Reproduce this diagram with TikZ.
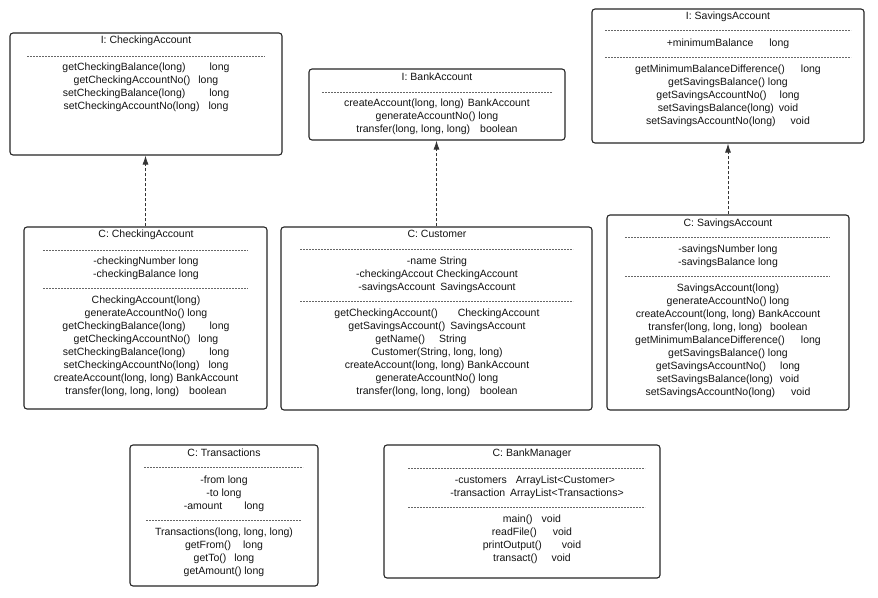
\documentclass[tikz,border=0pt]{standalone}
\usepackage{fontspec}
\setmainfont{Liberation Sans}
\usetikzlibrary{arrows.meta}
\begin{document}
\begin{tikzpicture}[x=1pt,y=-1pt,
  umlbox/.style={draw=black!85,line width=1.1pt,rounded corners=3pt,inner sep=0pt},
  sep/.style={draw=black!60,line width=0.5pt,dash pattern=on 2pt off 1pt},
  txt/.style={inner sep=0pt,text=black!92,font=\fontsize{10.5}{12}\selectfont,text height=7.6pt,text depth=2.2pt,anchor=center},
  dep/.style={draw=black!80,line width=0.9pt,dash pattern=on 3pt off 2pt,-{Latex[length=9pt,width=6pt]}}]
\useasboundingbox (0,0) rectangle (878,597);
\fill[white] (0,0) rectangle (878,597);

% ---------- boxes ----------
\node[umlbox,minimum width=272pt,minimum height=122pt] (A) at (146,94) {};
\node[umlbox,minimum width=256pt,minimum height=71pt] (B) at (437,104.5) {};
\node[umlbox,minimum width=272pt,minimum height=134pt] (C) at (728,76) {};
\node[umlbox,minimum width=243pt,minimum height=182pt] (D) at (145.5,318) {};
\node[umlbox,minimum width=311pt,minimum height=183pt] (E) at (436.5,318.5) {};
\node[umlbox,minimum width=242pt,minimum height=195pt] (F) at (728,312.5) {};
\node[umlbox,minimum width=188pt,minimum height=141pt] (G) at (224,515.5) {};
\node[umlbox,minimum width=276pt,minimum height=133pt] (H) at (522,511.5) {};

% ---------- separators ----------
\draw[sep] (27,56) -- (265,56);
\draw[sep] (322,92) -- (552,92);
\draw[sep] (605,30) -- (851,30);
\draw[sep] (605,57) -- (851,57);
\draw[sep] (43,250) -- (248,250);
\draw[sep] (43,288) -- (248,288);
\draw[sep] (300,249) -- (573,249);
\draw[sep] (300,301) -- (573,301);
\draw[sep] (625,237) -- (830,237);
\draw[sep] (625,276) -- (830,276);
\draw[sep] (144,467) -- (303,467);
\draw[sep] (146,520) -- (301,520);
\draw[sep] (408,468) -- (645,468);
\draw[sep] (408,507) -- (645,507);

% ---------- I: CheckingAccount ----------
\node[txt] (a0) at (146,41) {I: CheckingAccount};
\node[txt] (a1) at (146,68) {getCheckingBalance(long)\hspace{24pt}long};
\node[txt] (a2) at (146,81) {getCheckingAccountNo()\hspace{8pt}long};
\node[txt] (a3) at (146,94) {setCheckingBalance(long)\hspace{24pt}long};
\node[txt] (a4) at (146,107) {setCheckingAccountNo(long)\hspace{9pt}long};

% ---------- I: BankAccount ----------
\node[txt] (b0) at (437,78) {I: BankAccount};
\node[txt] (b1) at (437,104) {createAccount(long, long)\hspace{4pt}BankAccount};
\node[txt] (b2) at (437,117) {generateAccountNo() long};
\node[txt] (b3) at (437,130) {transfer(long, long, long)\hspace{10pt}boolean};

% ---------- I: SavingsAccount ----------
\node[txt] (c0) at (728,17) {I: SavingsAccount};
\node[txt] (c1) at (728,44) {+minimumBalance\hspace{16pt}long};
\node[txt] (c2) at (728,70) {getMinimumBalanceDifference()\hspace{16pt}long};
\node[txt] (c3) at (728,83) {getSavingsBalance() long};
\node[txt] (c4) at (728,96) {getSavingsAccountNo()\hspace{13pt}long};
\node[txt] (c5) at (728,109) {setSavingsBalance(long)\hspace{5pt}void};
\node[txt] (c6) at (728,122) {setSavingsAccountNo(long)\hspace{15pt}void};

% ---------- C: CheckingAccount ----------
\node[txt] (d0) at (146,235) {C: CheckingAccount};
\node[txt] (d1) at (146,262) {-checkingNumber long};
\node[txt] (d2) at (146,275) {-checkingBalance long};
\node[txt] (d3) at (146,301) {CheckingAccount(long)};
\node[txt] (d4) at (146,314) {generateAccountNo() long};
\node[txt] (d5) at (146,327) {getCheckingBalance(long)\hspace{24pt}long};
\node[txt] (d6) at (146,340) {getCheckingAccountNo()\hspace{8pt}long};
\node[txt] (d7) at (146,353) {setCheckingBalance(long)\hspace{24pt}long};
\node[txt] (d8) at (146,366) {setCheckingAccountNo(long)\hspace{9pt}long};
\node[txt] (d9) at (146,379) {createAccount(long, long) BankAccount};
\node[txt] (d10) at (146,392) {transfer(long, long, long)\hspace{10pt}boolean};

% ---------- C: Customer ----------
\node[txt] (e0) at (437,235) {C: Customer};
\node[txt] (e1) at (437,262) {-name String};
\node[txt] (e2) at (437,275) {-checkingAccout CheckingAccount};
\node[txt] (e3) at (437,288) {-savingsAccount\hspace{5pt}SavingsAccount};
\node[txt] (e4) at (437,314) {getCheckingAccount()\hspace{20pt}CheckingAccount};
\node[txt] (e5) at (437,327) {getSavingsAccount()\hspace{5pt}SavingsAccount};
\node[txt] (e6) at (421,340) {getName()\hspace{14pt}String};
\node[txt] (e7) at (437,353) {Customer(String, long, long)};
\node[txt] (e8) at (437,366) {createAccount(long, long) BankAccount};
\node[txt] (e9) at (437,379) {generateAccountNo() long};
\node[txt] (e10) at (437,392) {transfer(long, long, long)\hspace{10pt}boolean};

% ---------- C: SavingsAccount ----------
\node[txt] (f0) at (728,224) {C: SavingsAccount};
\node[txt] (f1) at (728,250) {-savingsNumber long};
\node[txt] (f2) at (728,263) {-savingsBalance long};
\node[txt] (f3) at (728,289) {SavingsAccount(long)};
\node[txt] (f4) at (728,302) {generateAccountNo() long};
\node[txt] (f5) at (728,315) {createAccount(long, long) BankAccount};
\node[txt] (f6) at (728,328) {transfer(long, long, long)\hspace{8pt}boolean};
\node[txt] (f7) at (728,341) {getMinimumBalanceDifference()\hspace{16pt}long};
\node[txt] (f8) at (728,354) {getSavingsBalance() long};
\node[txt] (f9) at (728,367) {getSavingsAccountNo()\hspace{14pt}long};
\node[txt] (f10) at (728,380) {setSavingsBalance(long)\hspace{7pt}void};
\node[txt] (f11) at (728,393) {setSavingsAccountNo(long)\hspace{16pt}void};

% ---------- C: Transactions ----------
\node[txt] (g0) at (224,454) {C: Transactions};
\node[txt] (g1) at (224,481) {-from long};
\node[txt] (g2) at (224,494) {-to long};
\node[txt] (g3) at (224,507) {-amount\hspace{22pt}long};
\node[txt] (g4) at (224,533) {Transactions(long, long, long)};
\node[txt] (g5) at (224,546) {getFrom()\hspace{12pt}long};
\node[txt] (g6) at (224,559) {getTo()\hspace{8pt}long};
\node[txt] (g7) at (224,572) {getAmount() long};

% ---------- C: BankManager ----------
\node[txt] (h0) at (532,454) {C: BankManager};
\node[txt] (h1) at (535,481) {-customers\hspace{9pt}ArrayList<Customer>};
\node[txt] (h2) at (537,494) {-transaction\hspace{5pt}ArrayList<Transactions>};
\node[txt] (h3) at (532,520) {main()\hspace{9pt}void};
\node[txt] (h4) at (532,533) {readFile()\hspace{16pt}void};
\node[txt] (h5) at (532,546) {printOutput()\hspace{20pt}void};
\node[txt] (h6) at (532,559) {transact()\hspace{14pt}void};

% ---------- realization arrows ----------
\draw[dep] (D.north) -- (D.north |- A.south);
\draw[dep] (E.north) -- (E.north |- B.south);
\draw[dep] (F.north) -- (F.north |- C.south);
\end{tikzpicture}
\end{document}
